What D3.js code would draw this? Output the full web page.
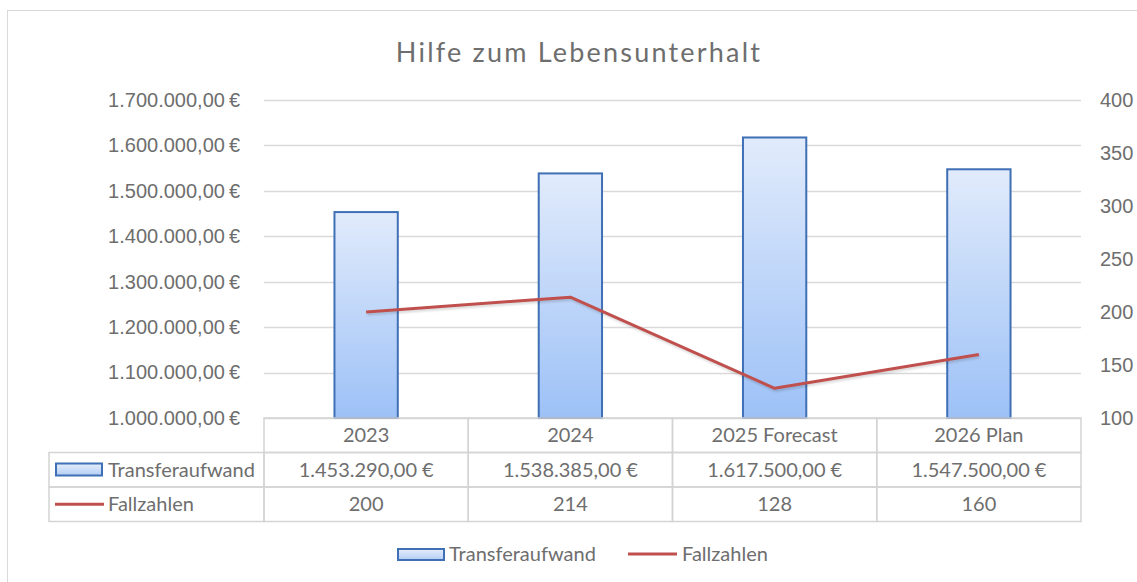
<!DOCTYPE html>
<html>
<head>
<meta charset="utf-8">
<script src="https://cdnjs.cloudflare.com/ajax/libs/d3/7.8.5/d3.min.js"></script>
<style type="text/css">
  body{
    margin: 0;
    background: white;
    font-family: 'Lato', sans-serif;
  }
  .tick text{
    fill: #6e6e6e;
    font-size: 20px;
  }
  .cellText{
    fill: #6e6e6e;
    font-size: 20px;
  }
</style>
</head>
<body>
<svg id="chart" width="1137" height="582"></svg>
<script>

var categories = ['2023', '2024', '2025 Forecast', '2026 Plan'];
var transferaufwand = [1453290, 1538385, 1617500, 1547500];
var fallzahlen = [200, 214, 128, 160];
var leftTicks = [1000000, 1100000, 1200000, 1300000, 1400000, 1500000, 1600000, 1700000];
var rightTicks = [100, 150, 200, 250, 300, 350, 400];

var seriesNames = ['Transferaufwand', 'Fallzahlen'];

var textColor = '#6e6e6e';
var gridColor = '#d9d9d9';
var barStroke = '#3f6fb5';
var lineColor = '#c0504d';

var plotLeft = 264, plotRight = 1081, plotTop = 100, plotBottom = 418;
var rowH = 34.5;

var svg = d3.select('#chart');

// outer frame
svg.append('rect')
  .attr('x', 7.5).attr('y', 10.5)
  .attr('width', 1140).attr('height', 600)
  .attr('fill', 'white')
  .attr('stroke', '#d9d9d9');

var defs = svg.append('defs');
var grd = defs.append('linearGradient')
  .attr('id', 'barGrad')
  .attr('x1', 0).attr('y1', 0).attr('x2', 0).attr('y2', 1);
grd.append('stop').attr('offset', '0%').attr('stop-color', '#e1ebfb');
grd.append('stop').attr('offset', '100%').attr('stop-color', '#9dc1f7');

var legGrd = defs.append('linearGradient')
  .attr('id', 'legGrad')
  .attr('x1', 0).attr('y1', 0).attr('x2', 0).attr('y2', 1);
legGrd.append('stop').attr('offset', '0%').attr('stop-color', '#e6eefb');
legGrd.append('stop').attr('offset', '100%').attr('stop-color', '#b3cdf5');

var x = d3.scaleBand()
  .domain(categories)
  .range([plotLeft, plotRight])
  .padding(0);

var yLeft = d3.scaleLinear()
  .domain([1000000, 1700000])
  .range([plotBottom, plotTop]);

var yRight = d3.scaleLinear()
  .domain([100, 400])
  .range([plotBottom, plotTop]);

var euro = function(v) {
  var s = d3.format(',.2f')(v);
  return s.replace(/,/g, '#').replace('.', ',').replace(/#/g, '.') + '\u202f€';
};

// title
svg.append('text')
  .attr('x', 579).attr('y', 62)
  .attr('text-anchor', 'middle')
  .attr('fill', textColor)
  .style('font-size', '27px')
  .style('letter-spacing', '2.2px')
  .text('Hilfe zum Lebensunterhalt');

// gridlines
svg.append('g')
  .selectAll('line')
  .data(leftTicks)
  .enter()
  .append('line')
  .attr('x1', plotLeft).attr('x2', plotRight)
  .attr('y1', function(d) { return Math.round(yLeft(d)) + 0.5; })
  .attr('y2', function(d) { return Math.round(yLeft(d)) + 0.5; })
  .attr('stroke', gridColor)
  .attr('stroke-width', 1.5);

// left axis
var leftAxis = d3.axisLeft(yLeft)
  .tickValues(leftTicks)
  .tickSize(0)
  .tickPadding(24)
  .tickFormat(euro);

svg.append('g')
  .attr('transform', 'translate(' + plotLeft + ',0)')
  .call(leftAxis)
  .call(function(g) { g.select('.domain').remove(); });

// right axis
var rightAxis = d3.axisRight(yRight)
  .tickValues(rightTicks)
  .tickSize(0)
  .tickPadding(19);

svg.append('g')
  .attr('transform', 'translate(' + plotRight + ',0)')
  .call(rightAxis)
  .call(function(g) { g.select('.domain').remove(); });

// bars
var barFrac = 0.31;
svg.append('g')
  .selectAll('rect')
  .data(transferaufwand)
  .enter()
  .append('rect')
  .attr('x', function(d, i) { return x(categories[i]) + x.bandwidth() * (1 - barFrac) / 2; })
  .attr('y', function(d) { return yLeft(d); })
  .attr('width', x.bandwidth() * barFrac)
  .attr('height', function(d) { return plotBottom - yLeft(d); })
  .attr('fill', 'url(#barGrad)')
  .attr('stroke', barStroke)
  .attr('stroke-width', 2);

// line
var line = d3.line()
  .x(function(d, i) { return x(categories[i]) + x.bandwidth() / 2; })
  .y(function(d) { return yRight(d); });

svg.append('path')
  .datum(fallzahlen)
  .attr('d', line)
  .attr('fill', 'none')
  .attr('stroke', lineColor)
  .attr('stroke-width', 3)
  .attr('stroke-linejoin', 'round')
  .style('filter', 'drop-shadow(1px 2px 1px rgba(0,0,0,0.15))');

// data table
var table = svg.append('g');
var tableLeft = 49;
var tableStroke = '#d4d4d4';
var textOff = 7;

// header row
categories.forEach(function(c) {
  table.append('rect')
    .attr('x', x(c)).attr('y', plotBottom)
    .attr('width', x.bandwidth()).attr('height', rowH)
    .attr('fill', 'none').attr('stroke', tableStroke).attr('stroke-width', 1.5);
  table.append('text')
    .attr('class', 'cellText')
    .attr('x', x(c) + x.bandwidth() / 2)
    .attr('y', plotBottom + rowH / 2 + textOff)
    .attr('text-anchor', 'middle')
    .text(c);
});

var rows = [
  { name: seriesNames[0], values: transferaufwand.map(euro) },
  { name: seriesNames[1], values: fallzahlen.map(String) }
];

rows.forEach(function(r, ri) {
  var ry = plotBottom + rowH * (ri + 1);
  table.append('rect')
    .attr('x', tableLeft).attr('y', ry)
    .attr('width', plotLeft - tableLeft).attr('height', rowH)
    .attr('fill', 'none').attr('stroke', tableStroke).attr('stroke-width', 1.5);
  if (ri === 0) {
    table.append('rect')
      .attr('x', 56).attr('y', ry + 11)
      .attr('width', 46).attr('height', 12)
      .attr('fill', 'url(#legGrad)')
      .attr('stroke', barStroke).attr('stroke-width', 2);
  } else {
    table.append('line')
      .attr('x1', 55).attr('x2', 104)
      .attr('y1', ry + rowH / 2).attr('y2', ry + rowH / 2)
      .attr('stroke', lineColor).attr('stroke-width', 3);
  }
  table.append('text')
    .attr('class', 'cellText')
    .attr('x', 108)
    .attr('y', ry + rowH / 2 + textOff)
    .text(r.name);

  r.values.forEach(function(v, i) {
    table.append('rect')
      .attr('x', x(categories[i])).attr('y', ry)
      .attr('width', x.bandwidth()).attr('height', rowH)
      .attr('fill', 'none').attr('stroke', tableStroke).attr('stroke-width', 1.5);
    table.append('text')
      .attr('class', 'cellText')
      .attr('x', x(categories[i]) + x.bandwidth() / 2)
      .attr('y', ry + rowH / 2 + textOff)
      .attr('text-anchor', 'middle')
      .text(v);
  });
});

// legend
var legend = svg.append('g');
legend.append('rect')
  .attr('x', 398).attr('y', 549)
  .attr('width', 46).attr('height', 11)
  .attr('fill', 'url(#legGrad)')
  .attr('stroke', barStroke).attr('stroke-width', 2);
legend.append('text')
  .attr('class', 'cellText')
  .attr('x', 449).attr('y', 561)
  .text(seriesNames[0]);
legend.append('line')
  .attr('x1', 628).attr('x2', 677)
  .attr('y1', 554).attr('y2', 554)
  .attr('stroke', lineColor).attr('stroke-width', 3);
legend.append('text')
  .attr('class', 'cellText')
  .attr('x', 682).attr('y', 561)
  .text(seriesNames[1]);

</script>
</body>
</html>
